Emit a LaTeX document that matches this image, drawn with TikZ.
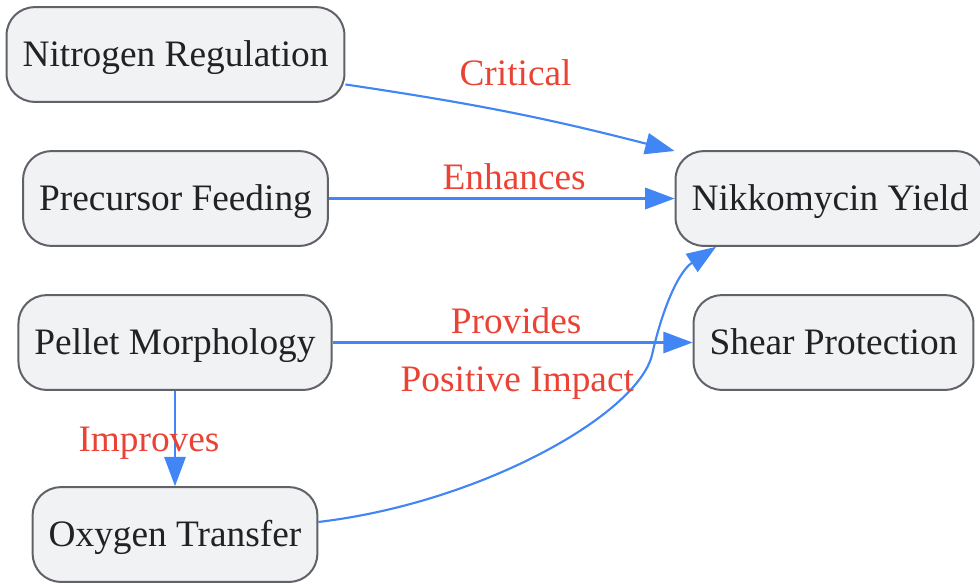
\documentclass[tikz,border=0pt]{standalone}
\usepackage{fontspec}
\setmainfont{Liberation Serif}
\usetikzlibrary{arrows.meta}
\definecolor{boxfill}{HTML}{F1F2F4}
\definecolor{boxline}{HTML}{606268}
\definecolor{flowblue}{HTML}{4285F4}
\definecolor{labelred}{HTML}{EA4335}
\definecolor{inkgray}{HTML}{222222}
\begin{document}
\begin{tikzpicture}[x=0.75pt,y=-0.75pt,
    >={Triangle[length=22pt,width=16pt]},
    font=\fontsize{28pt}{33pt}\selectfont]

      \useasboundingbox (0,0) rectangle (980,583);

      \begin{scope}[every node/.style={draw=boxline, fill=boxfill, text=inkgray,
          line width=1.5pt, rounded corners=21pt, inner xsep=12pt,
          text height=25pt, text depth=6.5pt, minimum height=71pt}]
        \node (nit) at (175.5,54.5)  {Nitrogen Regulation};
        \node (pre) at (175.5,198.5) {Precursor Feeding};
        \node (pel) at (175,342.5)   {Pellet Morphology};
        \node (oxy) at (175,534.5)   {Oxygen Transfer};
        \node (nik) at (830,198.5)   {Nikkomycin Yield};
        \node (shr) at (833.5,342.5) {Shear Protection};
      \end{scope}

      \begin{scope}[every node/.style={text=labelred, anchor=base, inner sep=0pt}]

        \begin{scope}[every edge/.style={draw=flowblue, line width=1.6pt, ->}]
          \path (nit.-10) edge[bend left=3] node[pos=0.515, yshift=21pt] (lcrit) {Critical} (nik.163);
          \path (pre) edge node[pos=0.536, yshift=6.4pt] (lenh) {Enhances} (nik);
          \path (pel) edge node[pos=0.51, yshift=6.75pt] (lpro) {Provides} (shr);
          \path (pel) edge node[pos=0.64, xshift=-19.5pt] (limp) {Improves} (oxy);
        \end{scope}

        \draw[flowblue, line width=1.6pt, ->] (oxy.5)
          .. controls (480,503) and (637,415) .. (652,355)
          node[pos=0.44, yshift=55.5pt] (lpos) {Positive Impact}
          .. controls (662,310) and (678,272) .. (nik.-157);
      \end{scope}

    \end{tikzpicture}
\end{document}
